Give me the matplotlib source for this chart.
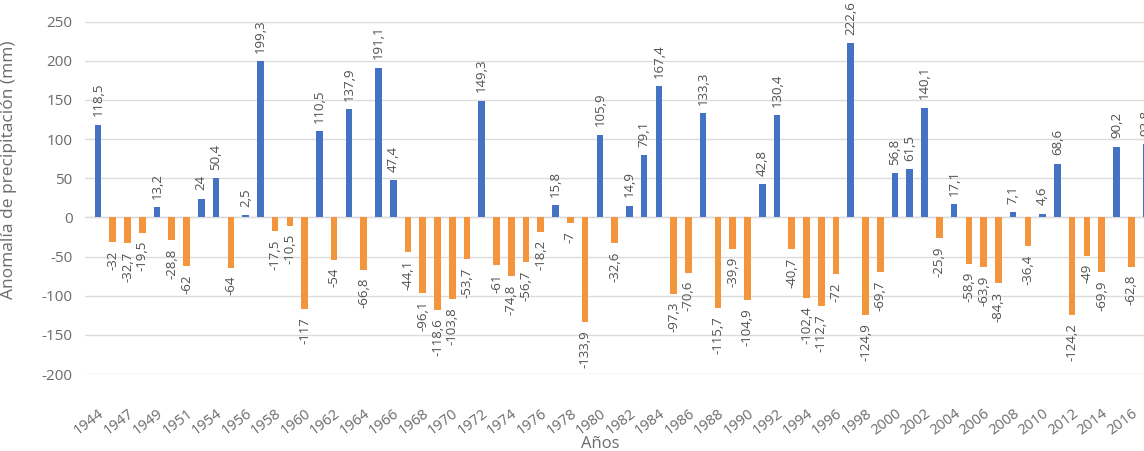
import matplotlib
matplotlib.use("Agg")
import matplotlib.pyplot as plt
import numpy as np

plt.rcParams['font.family'] = ['Open Sans', 'DejaVu Sans']

# Years shown on the chart (two of them hidden between labels)
years = [1944, 1945, 1947, 1948, 1949, 1950, 1951, 1952, 1954, 1955,
         1956, 1957, 1958, 1959, 1960, 1961, 1962, 1963, 1964, 1965,
         1966, 1967, 1968, 1969, 1970, 1971, 1972, 1973, 1974, 1975,
         1976, 1977, 1978, 1979, 1980, 1981, 1982, 1983, 1984, 1985,
         1986, 1987, 1988, 1989, 1990, 1991, 1992, 1993, 1994, 1995,
         1996, 1997, 1998, 1999, 2000, 2001, 2002, 2003, 2004, 2005,
         2006, 2007, 2008, 2009, 2010, 2011, 2012, 2013, 2014, 2015,
         2016, 2017]

# precipitation anomaly (mm)
anomaly = [118.5, -32, -32.7, -19.5, 13.2, -28.8, -62, 24, 50.4, -64,
           2.5, 199.3, -17.5, -10.5, -117, 110.5, -54, 137.9, -66.8, 191.1,
           47.4, -44.1, -96.1, -118.6, -103.8, -53.7, 149.3, -61, -74.8, -56.7,
           -18.2, 15.8, -7, -133.9, 105.9, -32.6, 14.9, 79.1, 167.4, -97.3,
           -70.6, 133.3, -115.7, -39.9, -104.9, 42.8, 130.4, -40.7, -102.4, -112.7,
           -72, 222.6, -124.9, -69.7, 56.8, 61.5, 140.1, -25.9, 17.1, -58.9,
           -63.9, -84.3, 7.1, -36.4, 4.6, 68.6, -124.2, -49, -69.9, 90.2,
           -62.8, 93.8]

y_ticks = [-200, -150, -100, -50, 0, 50, 100, 150, 200, 250]

blue = '#4472C4'
orange = '#F2953C'
txt = '#6b6b6b'

fig = plt.figure(figsize=(11.44, 4.51), dpi=100)
# axes runs past the right edge like the cropped original
ax = fig.add_axes([85 / 1144, 77 / 451, 1075 / 1144, 352.3 / 451])

x = np.arange(len(years))
vals = np.array(anomaly)
colors = [blue if v >= 0 else orange for v in vals]
ax.bar(x, vals, width=0.45, color=colors, zorder=3)

def fmt(v):
    s = ('%.1f' % v).rstrip('0').rstrip('.')
    return s.replace('.', ',')

for xi, v in zip(x, vals):
    if v >= 0:
        ax.annotate(fmt(v), (xi, v), xytext=(0, 6), textcoords='offset points',
                    rotation=90, ha='center', va='bottom', fontsize=9.5,
                    color='#505050')
    else:
        ax.annotate(fmt(v), (xi, v), xytext=(0, -6), textcoords='offset points',
                    rotation=90, ha='center', va='top', fontsize=9.5,
                    color='#505050')

ax.set_ylim(-200, 250)
ax.set_xlim(-0.88, 71.95)
ax.set_yticks(y_ticks)
ax.set_yticklabels([str(t) for t in y_ticks], fontsize=11, color=txt)
ax.grid(axis='y', color='#dcdcdc', linewidth=1, zorder=0)
ax.axhline(0, color='#d9d9d9', linewidth=1, zorder=1)

ax.set_xticks(x)
ax.set_xticklabels([str(y) if i % 2 == 0 else '' for i, y in enumerate(years)],
                   rotation=37, ha='right', rotation_mode='anchor',
                   fontsize=10.5, color=txt)
ax.tick_params(axis='both', length=0)
ax.tick_params(axis='x', pad=23)
ax.tick_params(axis='y', pad=9)

for s in ax.spines.values():
    s.set_visible(False)

ax.set_ylabel('Anomalía de precipitación (mm)', fontsize=12.5, color=txt)
ax.yaxis.set_label_coords(-0.063, 0.58)
ax.set_xlabel('Años', fontsize=12, color=txt)
ax.xaxis.set_label_coords((600 - 85) / 1075, -0.175)

fig.savefig('out.png', dpi=100)
